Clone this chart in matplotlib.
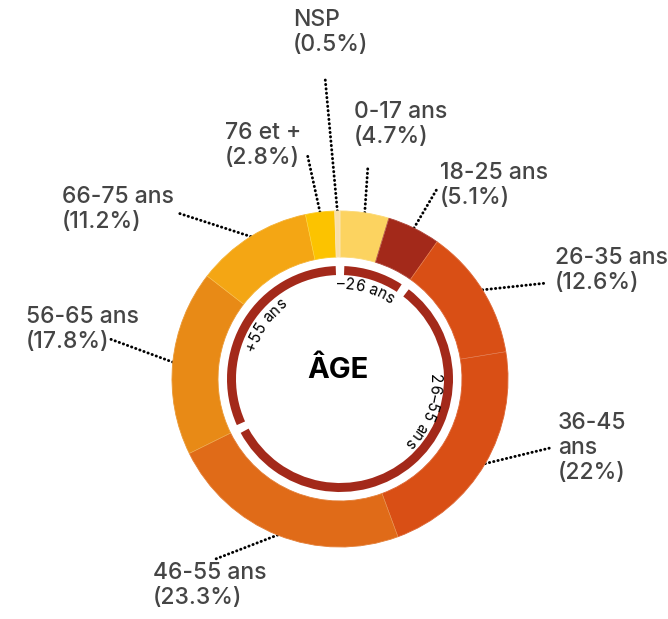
import numpy as np
import matplotlib
matplotlib.use('Agg')
import matplotlib.pyplot as plt
from matplotlib.patches import Wedge
from matplotlib.textpath import TextToPath
from matplotlib.font_manager import FontProperties

# data
categories = ['0-17 ans', '18-25 ans', '26-35 ans', '36-45\nans', '46-55 ans',
              '56-65 ans', '66-75 ans', '76 et +', 'NSP']
shares = [4.7, 5.1, 12.6, 22, 23.3, 17.8, 11.2, 2.8, 0.5]
colors = ['#fcd360', '#a3291a', '#d94f15', '#d94f15', '#e06b18',
          '#e88a16', '#f4a614', '#fcc300', '#f9dfa6']

groups = ['\u201326 ans', '26\u201355 ans', '+55 ans']
group_sizes = [2, 3, 4]  # number of categories in each group

# layout (pixel coords, y from top)
W, H = 668, 619
cx, cy = 340, H - 379
R_OUT, RING_W = 168, 46
R_IN, IN_W = 113, 9
label_pos = [(354, 101), (440, 162), (555, 247), (558, 412), (153, 562),
             (26, 306), (62, 186), (225, 122), (293, 9)]
leader_end = [(368, 165), (437, 189), (547, 283), (550, 448), (213, 560),
              (110, 339), (178, 213), (307, 153), (325, 77)]
group_text_mid = [16, 111, 306]

FONT = 'Inter'
plt.rcParams['font.family'] = [FONT, 'DejaVu Sans']

fig = plt.figure(figsize=(W / 100, H / 100), dpi=100)
ax = fig.add_axes([0, 0, 1, 1])

wedges, _ = ax.pie(shares, colors=colors, startangle=90, counterclock=False,
                   radius=R_OUT, center=(cx, cy),
                   wedgeprops=dict(width=RING_W, linewidth=0.6))
for w, c in zip(wedges, colors):
    w.set_edgecolor(c)
# faint seams between slices
ax.pie(shares, startangle=90, counterclock=False, radius=R_OUT, center=(cx, cy),
       wedgeprops=dict(width=RING_W, fill=False, edgecolor=(1, 1, 1, 0.2), linewidth=0.4))

# cumulative angles, clockwise from top
bounds = np.concatenate([[0], np.cumsum(shares)]) / sum(shares) * 360

# leader lines + labels
for i, lab in enumerate(categories):
    mid = np.radians((bounds[i] + bounds[i + 1]) / 2)
    x0 = cx + R_OUT * np.sin(mid)
    y0 = cy + R_OUT * np.cos(mid)
    ex, ey = leader_end[i]
    ax.plot([x0, ex], [y0, H - ey], color='black', lw=2.1,
            ls=(0, (0.1, 1.4)), dash_capstyle='round', zorder=0)
    lx, ly = label_pos[i]
    ax.text(lx, H - ly, '{}\n({:g}%)'.format(lab, shares[i]), ha='left', va='top',
            fontsize=16.5, fontweight='medium', color='#454545', linespacing=1.17)

# inner group arcs
gap = 2.2
idx = np.concatenate([[0], np.cumsum(group_sizes)])
for g in range(len(groups)):
    a0 = bounds[idx[g]] + gap
    a1 = bounds[idx[g + 1]] - gap
    ax.add_patch(Wedge((cx, cy), R_IN, 90 - a1, 90 - a0, width=IN_W,
                       color='#a3291a', lw=0))

# curved group text
t2p = TextToPath()
def text_width(s, fp):
    w, _, _ = t2p.get_text_width_height_descent(s + '|', fp, ismath=False)
    w0, _, _ = t2p.get_text_width_height_descent('|', fp, ismath=False)
    return (w - w0) * 100 / 72

def arc_text(s, mid_deg, r, size):
    fp = FontProperties(family=FONT, size=size)
    total = text_width(s, fp)
    start = mid_deg - np.degrees(total / 2 / r)
    for k, ch in enumerate(s):
        w_pre = text_width(s[:k], fp) if k else 0
        w_ch = text_width(s[:k + 1], fp) - w_pre
        th = start + np.degrees((w_pre + w_ch / 2) / r)
        t = np.radians(th)
        ax.text(cx + r * np.sin(t), cy + r * np.cos(t), ch, rotation=-th,
                rotation_mode='anchor', ha='center', va='baseline',
                fontsize=size, color='black')

for g, name in enumerate(groups):
    arc_text(name, group_text_mid[g], 90, 11)

ax.text(cx - 2, H - 370, '\u00c2GE', ha='center', va='center', fontsize=21,
        fontweight='bold', color='black')

ax.set_xlim(0, W)
ax.set_ylim(0, H)
ax.set_aspect('equal')
ax.axis('off')
fig.savefig('out.png', dpi=100)
